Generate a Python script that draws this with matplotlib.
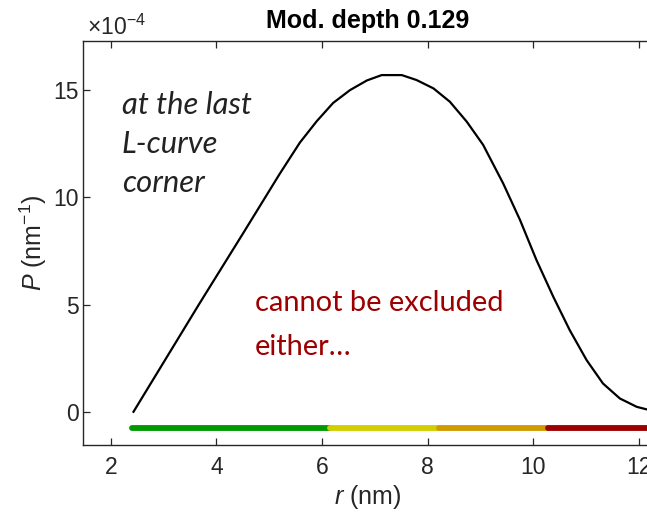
import matplotlib
matplotlib.use("Agg")
from matplotlib import pyplot as plt

# distance distribution, P in units of 1e-4 nm^-1
r = [2.43, 3.68, 4.50, 5.20, 5.58, 5.90, 6.21, 6.53, 6.85, 7.13, 7.51, 7.79,
     8.11, 8.42, 8.74, 9.05, 9.43, 9.75, 10.06, 10.38, 10.69, 11.01, 11.32,
     11.64, 11.96, 12.15, 12.40]
p_e4 = [0.0, 5.05, 8.30, 11.10, 12.55, 13.55, 14.40, 15.00, 15.45, 15.70,
        15.70, 15.47, 15.08, 14.46, 13.53, 12.45, 10.65, 8.94, 7.08, 5.36,
        3.81, 2.41, 1.32, 0.62, 0.23, 0.11, 0.02]

# validity bar segments below the curve
seg_edges = [2.40, 6.15, 8.22, 10.27, 12.5]
seg_colors = ['#009900', '#d2cf00', '#d09a00', '#9c0000']
bar_level = -0.75

title = 'Mod. depth 0.129'
xticks = [2, 4, 6, 8, 10, 12]
yticks = [0, 5, 10, 15]

plt.rcParams['mathtext.fontset'] = 'custom'
plt.rcParams['mathtext.it'] = 'Liberation Sans:italic'
plt.rcParams['mathtext.rm'] = 'Liberation Sans'

grey = '#262626'
fig = plt.figure(figsize=(6.47, 5.15), dpi=100)
ax = fig.add_axes([0.1288, 0.1359, 0.8774, 0.7845])

ax.plot(r, p_e4, color='black', lw=1.6, zorder=3)
for i, c in enumerate(seg_colors):
    ax.plot([seg_edges[i], seg_edges[i + 1]], [bar_level, bar_level],
            color=c, lw=4.2, solid_capstyle='round', zorder=2 + i * 0.01)

ax.set_xlim(1.48, 12.23)
ax.set_ylim(-1.55, 17.29)
ax.set_xticks(xticks)
ax.set_yticks(yticks)
ax.tick_params(direction='in', length=5, width=0.9, colors=grey,
               labelsize=16.5, top=True, right=False)
ax.tick_params(axis='x', pad=8)
ax.tick_params(axis='y', pad=3.5)
for lab in ax.get_xticklabels() + ax.get_yticklabels():
    lab.set_family('Liberation Sans')
for s in ax.spines.values():
    s.set_color(grey)
    s.set_linewidth(1.0)

ax.set_xlabel('$r$ (nm)', fontsize=18, color=grey, family='Liberation Sans',
              labelpad=3)
ax.set_ylabel('$P$ (nm$^{-1}$)', fontsize=18, color=grey,
              family='Liberation Sans', labelpad=3)
ax.set_title(title, fontsize=18, fontweight='bold', family='Liberation Sans',
             pad=9)
fig.text(0.134, 0.932, '×10$^{-4}$', fontsize=16.5, color=grey,
         family='Liberation Sans', va='baseline')

# multi-line texts are anchored on the baseline of their last line
ax.text(2.21, 10.26, 'at the last\nL-curve\ncorner', fontsize=22.3,
        style='italic', family='Lato', color='#222222', va='baseline',
        linespacing=1.47)
ax.text(4.73, 2.64, 'cannot be excluded\neither…', fontsize=20.9,
        family='Lato', color='#9c0000', va='baseline', linespacing=1.88)

fig.savefig('out.png', dpi=100)
